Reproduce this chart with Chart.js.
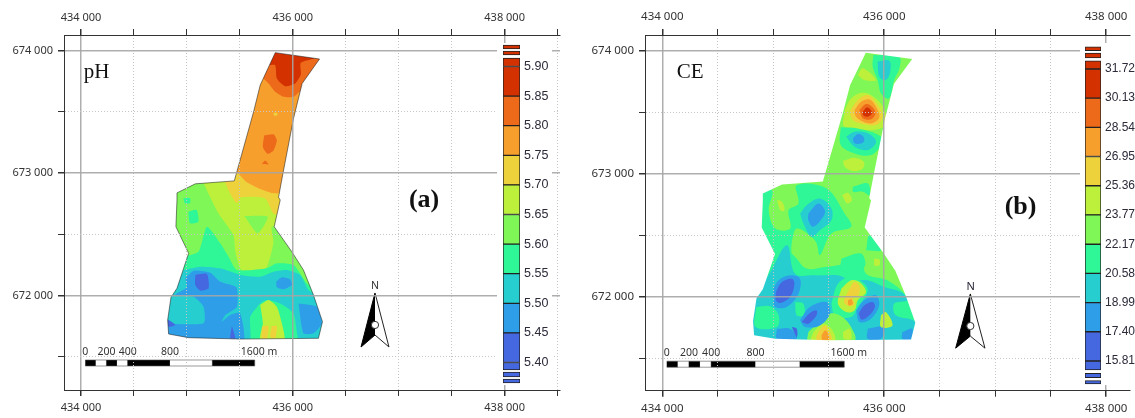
<!DOCTYPE html>
<html>
<head>
<meta charset="utf-8">
<style>
  html, body { margin: 0; padding: 0; background: #fff; overflow: hidden; }
  #page { position: relative; width: 1135px; height: 418px; }
  canvas { position: absolute; }
  .bar { background: #fff; }
</style>
</head>
<body>
<div id="page">
  <canvas id="mapPh" width="575" height="418" style="left:0;top:0"></canvas>
  <canvas id="mapCe" width="560" height="418" style="left:575px;top:0"></canvas>
  <canvas id="barPh" class="bar" width="55" height="342" style="left:497px;top:43px"></canvas>
  <canvas id="barCe" class="bar" width="55" height="342" style="left:1080px;top:43px"></canvas>
</div>
<script src="https://cdn.jsdelivr.net/npm/chart.js@4"></script>
<script>
// class colours, low to high
const bandColors = ["#4567e0", "#2f9ee8", "#26ced0", "#2ff696", "#7ff857", "#bdf03a", "#eed23b", "#f79f2c", "#ec6a1a", "#d33100"];

// map axis ticks
const eastingTicks = [434000,434500,435000,435500,436000,436500,437000,437500,438000,438500];
const northingTicks = [671500,672000,672500,673000,673500,674000];

// colour bar: value ranges and the class of each
const phRanges = [[5.3654,5.372],[5.3755,5.384],[5.3873,5.40],[5.40,5.45],[5.45,5.50],[5.50,5.55],[5.55,5.60],[5.60,5.65],[5.65,5.70],[5.70,5.75],[5.75,5.80],[5.80,5.85],[5.85,5.90],[5.90,5.9144],[5.9194,5.9262],[5.9296,5.9363]];
const ceRanges = [[14.56,14.74],[14.90,15.14],[15.32,15.81],[15.81,17.40],[17.40,18.99],[18.99,20.58],[20.58,22.17],[22.17,23.77],[23.77,25.36],[25.36,26.95],[26.95,28.54],[28.54,30.13],[30.13,31.72],[31.72,32.17],[32.32,32.59],[32.72,32.93]];
const rangeBands = [0,0,0,0,1,2,3,4,5,6,7,8,9,9,9,9];
const phTicks = [5.40,5.45,5.50,5.55,5.60,5.65,5.70,5.75,5.80,5.85,5.90];
const ceTicks = [15.81,17.40,18.99,20.58,22.17,23.77,25.36,26.95,28.54,30.13,31.72];

// surveyed field boundary, easting/northing pairs in metres
const fieldOutline = [435834,673984, 436252,673932, 436088,673732, 436006,673445, 435906,672995, 435865,672803, 435881,672781, 435824,672563, 435990,672359, 436100,672210, 436195,672005, 436280,671788, 436242,671652, 435503,671646, 435016,671657, 434827,671687, 434818,671801, 434849,671986, 434906,672060, 435016,672346, 434896,672563, 434906,672781, 434906,672839, 435079,672913, 435447,672937, 435629,673500, 435692,673719];

// pH classes, painted in order: [class, easting/northing pairs]
const phLayers = [
  [4, [434700,671500, 436400,671500, 436400,674100, 434700,674100]],
  [5, [435155,672944, 435155,672923, 435297,672672, 435438,672495, 435460,672346, 435517,672210, 435737,672210, 435816,672427, 435800,672563, 435863,672563, 436052,672863, 436052,672944]],
  [4, [435542,672650, 435763,672645, 435668,672509]],
  [6, [435360,672923, 435407,672836, 435470,672754, 435511,672803, 435737,672795, 435816,672672, 435879,672659, 436052,672863, 436052,672999, 435360,672999]],
  [7, [435378,673094, 435503,672981, 435566,672926, 435692,672871, 435818,672836, 435943,672852, 436321,674005, 435566,674005]],
  [8, [435692,673800, 435771,673732, 435834,673664, 435912,673623, 436007,673623, 436101,673691, 436321,673705, 436321,674005, 435692,674005]],
  [9, [435833,674019, 436321,673964, 436076,673901, 436076,673808, 436022,673732, 435928,673710, 435849,673773, 435833,673882, 435755,673882, 435771,674005]],
  [8, [435730,673309, 435818,673317, 435849,673268, 435818,673186, 435761,673158, 435717,673213]],
  [8, [435708,673076, 435739,673104, 435771,673071]],
  [6, [435818,673492, 435855,673492, 435849,673470, 435824,673470]],
  [3, [434966,672795, 435029,672795, 435029,672754, 434982,672754]],
  [3, [435013,672686, 435092,672700, 435108,672604, 435029,672591]],
  [3, [434969,672318, 435110,672359, 435189,672563, 435315,672427, 435393,672318, 435472,672210, 435755,672223, 435849,672264, 436007,672250, 436132,672101, 436321,671965, 436321,671611, 434749,671611, 434874,672101]],
  [2, [434969,672210, 435126,672237, 435315,672223, 435503,672169, 435692,672155, 435818,672196, 435943,672210, 436069,672169, 436148,672046, 436321,671937, 436321,671611, 436069,671611, 436007,671856, 435881,671937, 435755,671965, 435692,671937, 435598,671829, 435582,671611, 434749,671611, 434811,671992, 434906,672101]],
  [5, [435692,671924, 435771,671965, 435849,671910, 435896,671774, 435918,671638, 435692,671638, 435717,671774]],
  [6, [435708,671747, 435771,671752, 435755,671652, 435708,671652]],
  [6, [435802,671752, 435849,671752, 435833,671652, 435786,671665]],
  [1, [434984,672142, 435063,672204, 435220,672188, 435315,672114, 435466,672068, 435472,671910, 435362,671842, 435330,671788, 435409,671842, 435503,671856, 435528,671611, 434780,671611, 434780,671761, 435157,671774, 435157,671910, 435063,671992, 434890,672006, 435000,672068]],
  [1, [435843,672114, 435896,672150, 435975,672133, 435991,672087, 435912,672052, 435849,672068]],
  [1, [436054,671937, 436227,671910, 436274,671774, 436195,671693, 436101,671693]],
  [0, [435079,672169, 435189,672177, 435205,672060, 435126,672041, 435079,672087]],
  [0, [434818,671807, 434890,671761, 434818,671747]],
  [0, [435425,671752, 435456,671652, 435409,671652]]
];

// CE classes, same layout
const ceLayers = [
  [4, [434700,671500, 436400,671500, 436400,674100, 434700,674100]],
  [3, [435902,673965, 436134,673952, 436137,673857, 436090,673762, 436045,673613, 435971,673653, 435941,673762, 435896,673870]],
  [2, [435941,673911, 436045,673919, 436054,673830, 436015,673762, 435956,673789]],
  [5, [435763,673803, 435807,673857, 435926,673762, 435822,673762]],
  [5, [435644,673518, 435703,673613, 435822,673659, 435956,673585, 436015,673477, 435971,673368, 435644,673382]],
  [6, [435688,673504, 435763,673599, 435852,673640, 435941,673558, 435986,673463, 435926,673396, 435792,673409, 435718,673436]],
  [7, [435733,673518, 435792,673585, 435867,673604, 435926,673545, 435956,673458, 435881,673409, 435792,673431, 435742,673469]],
  [8, [435777,673518, 435837,673566, 435896,673539, 435920,673490, 435881,673442, 435807,673450]],
  [9, [435807,673504, 435843,673539, 435881,673518, 435887,673485, 435846,673463, 435810,673477]],
  [3, [435608,673377, 435763,673368, 435965,673306, 435971,673233, 435881,673151, 435733,673165, 435608,673233]],
  [2, [435658,673300, 435733,673341, 435852,673328, 435926,673260, 435852,673192, 435733,673219]],
  [1, [435718,673287, 435763,673322, 435813,673301, 435816,673260, 435763,673241, 435727,673254]],
  [5, [435629,673105, 435733,673130, 435816,673097, 435807,673043, 435718,673021, 435644,673056]],
  [3, [435718,672893, 435852,672920, 435867,672825, 435807,672853, 435718,672853]],
  [5, [435620,672825, 435673,672844, 435709,672785, 435667,672758]],
  [3, [434840,672866, 434989,672866, 434959,672703, 435019,672554, 435153,672554, 435138,672703, 435227,672758, 435212,672907, 435480,672880, 435643,672676, 435703,672568, 435524,672513, 435420,672337, 435391,672432, 435346,672486, 435212,672554, 435168,672445, 435138,672242, 434900,672215, 434840,672486]],
  [5, [435034,672785, 435079,672771, 435102,672703, 435064,672703]],
  [2, [435242,672676, 435301,672744, 435420,672798, 435524,672717, 435524,672622, 435420,672540, 435346,672486, 435272,672595]],
  [1, [435316,672676, 435406,672758, 435465,672703, 435450,672649, 435361,672568, 435316,672622]],
  [3, [435018,672350, 435078,672418, 435197,672323, 435301,672228, 435464,672241, 435643,672268, 435792,672336, 435836,672187, 436029,672133, 436208,671997, 436327,671780, 436327,671617, 434780,671617, 434810,671997, 434929,672187]],
  [3, [435614,672310, 435792,672350, 435822,672242, 435614,672215]],
  [3, [435837,672378, 435867,672500, 435971,672378]],
  [5, [435911,672310, 435956,672302, 435956,672256, 435911,672256]],
  [2, [434870,672051, 434974,672200, 435123,672418, 435197,672187, 435375,672173, 435583,672173, 435702,672133, 435851,672133, 436000,672078, 436148,672038, 436208,671970, 436089,671943, 436104,671848, 436282,671793, 436327,671617, 434780,671617, 434810,671997]],
  [3, [434846,671916, 434974,671921, 435048,671848, 435033,671753, 434840,671753]],
  [3, [435197,671956, 435271,671943, 435277,671848, 435212,671848]],
  [3, [435524,671943, 435583,672105, 435702,672160, 435851,672065, 435762,671916, 435702,671834, 435554,671848]],
  [5, [435613,672065, 435702,672133, 435777,672119, 435836,672038, 435762,671970, 435732,671888, 435658,671875, 435583,671943]],
  [6, [435688,672065, 435732,672119, 435777,672084, 435768,672011, 435717,671983, 435732,671943, 435702,671921, 435643,671943, 435643,671983]],
  [7, [435673,671970, 435702,671981, 435717,671943, 435679,671929]],
  [4, [435316,671712, 435509,671861, 435643,671821, 435732,671698, 435732,671644, 435316,671644]],
  [5, [435360,671712, 435450,671780, 435524,671739, 435554,671644, 435346,671644]],
  [6, [435405,671712, 435464,671766, 435509,671712, 435524,671650, 435390,671650]],
  [7, [435435,671685, 435470,671726, 435500,671685, 435500,671650, 435441,671650]],
  [5, [435628,671712, 435687,671739, 435702,671657, 435637,671657]],
  [1, [435003,672065, 435048,672133, 435152,672173, 435241,672146, 435227,672024, 435122,671916, 435018,671916, 435003,671983]],
  [0, [435024,672038, 435078,672119, 435167,672146, 435191,672105, 435152,671997, 435063,671948, 435024,671970]],
  [1, [435241,671807, 435330,671916, 435479,671956, 435509,671861, 435420,671766, 435286,671753]],
  [0, [435256,671793, 435330,671867, 435390,671888, 435390,671848, 435316,671780]],
  [1, [435747,671888, 435821,671970, 435925,672011, 435955,671929, 435881,671821, 435777,671793]],
  [0, [435768,671861, 435821,671929, 435896,671956, 435916,671916, 435866,671848, 435798,671812]],
  [1, [435033,671739, 435152,671739, 435212,671657, 435033,671657]],
  [0, [435167,671753, 435212,671739, 435212,671671]],
  [1, [435851,671739, 436000,671753, 435970,671657, 435851,671657]],
  [1, [436163,671712, 436252,671739, 436237,671650, 436163,671657]],
  [5, [435970,671848, 436015,671875, 436074,671766, 435970,671753]]
];

// scale bar stops (m) and north arrow, map coordinates
const scaleBarStops = [0, 100, 200, 300, 400, 800, 1200, 1600];
const scaleBarLabels = ["0", "200", "400", "800", "1600 m"];
const scaleBarLabelStops = [0, 200, 400, 800, 1640];
const arrowBlack = [436776,672022, 436644,671581, 436776,671679];
const arrowWhite = [436776,672022, 436908,671581, 436776,671679];
const arrowHub = [436776, 671761];

function toPoints(flat) {
  const pts = [];
  for (let i = 0; i < flat.length; i += 2) {
    pts.push({x: flat[i], y: flat[i + 1]});
  }
  return pts;
}

function area(flat, color, extra) {
  return Object.assign({
    data: toPoints(flat),
    showLine: true,
    fill: "shape",
    backgroundColor: color,
    borderColor: color,
    borderWidth: 0,
    pointRadius: 0
  }, extra || {});
}

function fmtCoord(v) {
  const s = String(v);
  return s.slice(0, 3) + " " + s.slice(3);
}

const textPlugin = {
  id: "mapText",
  afterDatasetsDraw(chart, args, opts) {
    const ctx = chart.ctx;
    ctx.save();
    ctx.textAlign = "center";
    ctx.textBaseline = "middle";
    opts.items.forEach(function (t) {
      ctx.font = t.font;
      ctx.fillStyle = t.color || "#111";
      ctx.fillText(t.text, chart.scales.x.getPixelForValue(t.x), chart.scales.y.getPixelForValue(t.y));
    });
    ctx.restore();
  }
};

function makeMap(id, cfg) {
  const datasets = cfg.layers.map(function (l) {
    // close the ring so the smoothing runs all the way round
    return area(l[1].concat(l[1].slice(0, 2)), bandColors[l[0]], {tension: cfg.tension});
  });

  // white mask outside the field boundary
  const r = [cfg.xMin, cfg.yMax, cfg.xMin, cfg.yMin, cfg.xMax, cfg.yMin, cfg.xMax, cfg.yMax, cfg.xMin, cfg.yMax];
  const closed = fieldOutline.concat(fieldOutline.slice(0, 2));
  datasets.push(area(r.concat(closed), "#fff"));
  if (cfg.edge) {
    datasets.push({data: toPoints(closed), showLine: true, fill: false, borderColor: "rgba(20,20,20,0.65)", borderWidth: 0.8, pointRadius: 0});
  }

  // scale bar
  for (let i = 0; i < scaleBarStops.length - 1; i++) {
    const a = 434040 + scaleBarStops[i], b = 434040 + scaleBarStops[i + 1];
    datasets.push(area([a,671426, b,671426, b,671475, a,671475], i % 2 ? "#fff" : "#000", {borderColor: "#555", borderWidth: 0.6}));
  }

  // north arrow
  datasets.push(area(arrowWhite, "#fff", {borderColor: "#222", borderWidth: 1}));
  datasets.push(area(arrowBlack, "#000", {borderColor: "#000", borderWidth: 1}));
  datasets.push({data: toPoints(arrowHub), pointRadius: 3.6, pointBackgroundColor: "#fff", pointBorderColor: "#333", pointBorderWidth: 1});

  const solidX = function (v) { return v % 2000 === 0; };
  const solidY = function (v) { return v % 1000 === 0; };

  function axis(position, min, max, values, isSolid, fit) {
    return {
      type: "linear",
      position: position,
      min: min,
      max: max,
      bounds: "data",
      afterFit: fit,
      afterBuildTicks: function (s) {
        s.ticks = values.filter(function (v) { return v >= min && v <= max; }).map(function (v) { return {value: v}; });
      },
      grid: {
        z: 1,
        drawOnChartArea: position !== "top",
        tickLength: 6,
        tickColor: "#333",
        tickBorderDash: [],
        color: function (c) { return c.tick && isSolid(c.tick.value) ? "rgba(165,165,165,0.9)" : "#c6c6c6"; },
        lineWidth: function (c) { return c.tick && isSolid(c.tick.value) ? 1.5 : 1; }
      },
      border: {
        z: 2,
        color: "#333",
        width: 1,
        dash: function (c) { return c.tick && isSolid(c.tick.value) ? [] : [1, 2]; }
      },
      ticks: {
        autoSkip: false,
        maxRotation: 0,
        padding: 5,
        color: "#333",
        font: {family: "'Noto Sans', sans-serif", size: cfg.tickFont},
        callback: function (v) { return isSolid(v) ? fmtCoord(v) : ""; }
      }
    };
  }

  return new Chart(document.getElementById(id), {
    type: "scatter",
    data: {datasets: datasets.reverse()},
    options: {
      responsive: false,
      animation: false,
      devicePixelRatio: 1,
      layout: {padding: {right: cfg.padRight}},
      plugins: {
        legend: {display: false},
        tooltip: {enabled: false},
        mapText: {items: cfg.text}
      },
      scales: {
        x: axis("bottom", cfg.xMin, cfg.xMax, eastingTicks, solidX, function (s) { s.height = 418 - cfg.bottom; }),
        x2: axis("top", cfg.xMin, cfg.xMax, eastingTicks, solidX, function (s) { s.height = 35; }),
        y: axis("left", cfg.yMin, cfg.yMax, northingTicks, solidY, function (s) { s.width = cfg.left; })
      }
    },
    plugins: [textPlugin]
  });
}

function scaleBarText(n) {
  return scaleBarLabels.map(function (t, i) {
    return {text: t, x: 434040 + scaleBarLabelStops[i], y: n, font: "10.5px 'Noto Sans', sans-serif", color: "#333"};
  });
}

function makeBar(id, ranges, ticks, min, max, padLeft, axisWidth, fontSize) {
  return new Chart(document.getElementById(id), {
    type: "bar",
    data: {
      labels: [""],
      datasets: ranges.map(function (r, i) {
        return {
          data: [r],
          backgroundColor: bandColors[rangeBands[i]],
          borderColor: "#222",
          borderWidth: 1,
          borderSkipped: false,
          barPercentage: 1,
          categoryPercentage: 1,
          grouped: false
        };
      })
    },
    options: {
      responsive: false,
      animation: false,
      devicePixelRatio: 1,
      layout: {autoPadding: false, padding: {left: padLeft}},
      plugins: {legend: {display: false}, tooltip: {enabled: false}},
      scales: {
        x: {display: false},
        y: {
          position: "right",
          min: min,
          max: max,
          bounds: "data",
          grid: {display: false, drawTicks: false, tickLength: 0},
          border: {display: false},
          afterFit: function (s) { s.width = axisWidth; s.paddingTop = 0; s.paddingBottom = 0; },
          afterBuildTicks: function (s) { s.ticks = ticks.map(function (v) { return {value: v}; }); },
          ticks: {
            autoSkip: false,
            padding: 4,
            color: "#2b2b3a",
            font: {family: "'Liberation Sans', sans-serif", size: fontSize},
            callback: function (v) { return Number(v).toFixed(2); }
          }
        }
      }
    }
  });
}

makeMap("mapPh", {
  layers: phLayers, edge: true, tension: 0.2, tickFont: 11, left: 64, bottom: 390, padRight: 15,
  xMin: 433839, xMax: 438523, yMin: 671230, yMax: 674128,
  text: [
    {text: "pH", x: 434146, y: 673826, font: "21px 'Liberation Serif', serif"},
    {text: "(a)", x: 437239, y: 672781, font: "bold 26px 'Liberation Serif', serif"},
    {text: "N", x: 436776, y: 672079, font: "10.5px 'Noto Sans', sans-serif", color: "#333"}
  ].concat(scaleBarText(671540))
});

makeMap("mapCe", {
  layers: ceLayers, edge: false, tension: 0.35, tickFont: 11.5, left: 70, bottom: 390.7, padRight: 0,
  xMin: 433844, xMax: 438215, yMin: 671235, yMax: 674128,
  text: [
    {text: "CE", x: 434250, y: 673827, font: "21px 'Liberation Serif', serif"},
    {text: "(b)", x: 437229, y: 672727, font: "bold 26px 'Liberation Serif', serif"},
    {text: "N", x: 436779, y: 672079, font: "11px 'Noto Sans', sans-serif", color: "#223"}
  ].concat(scaleBarText(671540))
});

makeBar("barPh", phRanges, phTicks, 5.362, 5.9397, 6, 32, 12.5);
makeBar("barCe", ceRanges, ceTicks, 14.50, 33.137, 5, 34, 12);
</script>
</body>
</html>
